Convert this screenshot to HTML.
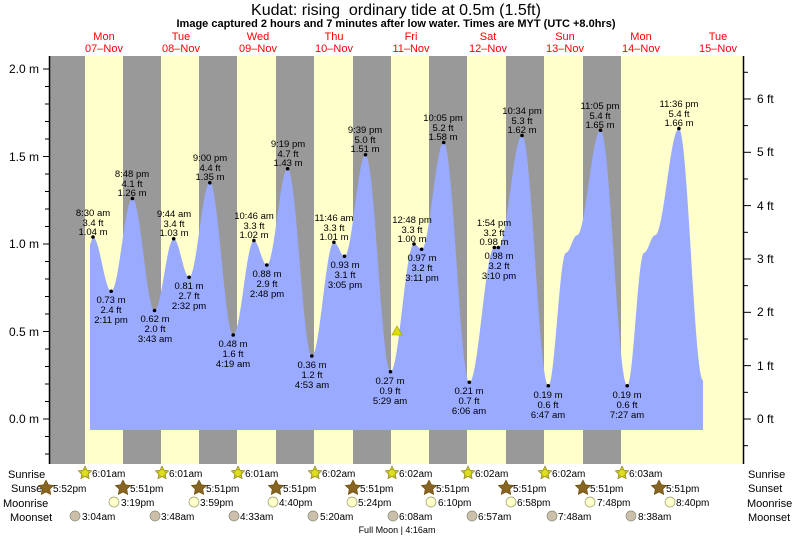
<!DOCTYPE html>
<html><head><meta charset="utf-8"><style>
body{margin:0;background:#fff;}
svg text{font-family:"Liberation Sans",sans-serif;}
</style></head><body>
<svg id="s" width="793" height="537" xmlns="http://www.w3.org/2000/svg">
<rect width="793" height="537" fill="#fff"/>
<text x="396" y="15" font-size="16" text-anchor="middle" xml:space="preserve">Kudat: rising  ordinary tide at 0.5m (1.5ft)</text>
<text x="396" y="27" font-size="11" font-weight="bold" text-anchor="middle">Image captured 2 hours and 7 minutes after low water. Times are MYT (UTC +8.0hrs)</text>
<g fill="#ff0000" font-size="11" text-anchor="middle">
<text x="104" y="40">Mon</text><text x="104" y="52">07–Nov</text>
<text x="181" y="40">Tue</text><text x="181" y="52">08–Nov</text>
<text x="258" y="40">Wed</text><text x="258" y="52">09–Nov</text>
<text x="334" y="40">Thu</text><text x="334" y="52">10–Nov</text>
<text x="411" y="40">Fri</text><text x="411" y="52">11–Nov</text>
<text x="488" y="40">Sat</text><text x="488" y="52">12–Nov</text>
<text x="565" y="40">Sun</text><text x="565" y="52">13–Nov</text>
<text x="641" y="40">Mon</text><text x="641" y="52">14–Nov</text>
<text x="718" y="40">Tue</text><text x="718" y="52">15–Nov</text>
</g>
<rect x="50" y="56" width="693" height="408" fill="#ffffcc"/>
<g fill="#999">
<rect x="50" y="56" width="35" height="408"/>
<rect x="123" y="56" width="38" height="408"/>
<rect x="199" y="56" width="38" height="408"/>
<rect x="276" y="56" width="38" height="408"/>
<rect x="353" y="56" width="38" height="408"/>
<rect x="429" y="56" width="38" height="408"/>
<rect x="506" y="56" width="38" height="408"/>
<rect x="583" y="56" width="38" height="408"/>
</g>
<path id="tide" fill="#99aaff" d=""/>
<g id="dots" fill="#000"></g>
<polygon points="392,335 402,335 397,326" fill="#dddd00" stroke="#999900" stroke-width="0.6"/>
<line x1="49.5" y1="56" x2="49.5" y2="464" stroke="#000" stroke-width="1.5"/>
<line x1="743.5" y1="56" x2="743.5" y2="464" stroke="#000" stroke-width="1.5"/>
<g id="ticks" stroke="#000"></g>
<g font-size="12" text-anchor="end">
<text x="39" y="73">2.0 m</text><text x="39" y="161">1.5 m</text><text x="39" y="248">1.0 m</text><text x="39" y="336">0.5 m</text><text x="39" y="423">0.0 m</text>
</g>
<g font-size="12">
<text x="757" y="423">0 ft</text><text x="757" y="370">1 ft</text><text x="757" y="316">2 ft</text><text x="757" y="263">3 ft</text><text x="757" y="210">4 ft</text><text x="757" y="156">5 ft</text><text x="757" y="103">6 ft</text>
</g>
<g font-size="9.5" text-anchor="middle" fill="#000">
<text x="93" y="216">8:30 am</text><text x="93" y="226">3.4 ft</text><text x="93" y="235">1.04 m</text>
<text x="111" y="303">0.73 m</text><text x="111" y="313">2.4 ft</text><text x="111" y="323">2:11 pm</text>
<text x="132" y="177">8:48 pm</text><text x="132" y="187">4.1 ft</text><text x="132" y="196">1.26 m</text>
<text x="155" y="322">0.62 m</text><text x="155" y="332">2.0 ft</text><text x="155" y="342">3:43 am</text>
<text x="174" y="217">9:44 am</text><text x="174" y="227">3.4 ft</text><text x="174" y="236">1.03 m</text>
<text x="189" y="289">0.81 m</text><text x="189" y="299">2.7 ft</text><text x="189" y="309">2:32 pm</text>
<text x="210" y="161">9:00 pm</text><text x="210" y="171">4.4 ft</text><text x="210" y="180">1.35 m</text>
<text x="233" y="347">0.48 m</text><text x="233" y="357">1.6 ft</text><text x="233" y="367">4:19 am</text>
<text x="254" y="219">10:46 am</text><text x="254" y="229">3.3 ft</text><text x="254" y="238">1.02 m</text>
<text x="267" y="277">0.88 m</text><text x="267" y="287">2.9 ft</text><text x="267" y="297">2:48 pm</text>
<text x="288" y="147">9:19 pm</text><text x="288" y="157">4.7 ft</text><text x="288" y="166">1.43 m</text>
<text x="312" y="368">0.36 m</text><text x="312" y="378">1.2 ft</text><text x="312" y="388">4:53 am</text>
<text x="334" y="221">11:46 am</text><text x="334" y="231">3.3 ft</text><text x="334" y="240">1.01 m</text>
<text x="345" y="268">0.93 m</text><text x="345" y="278">3.1 ft</text><text x="345" y="288">3:05 pm</text>
<text x="365" y="133">9:39 pm</text><text x="365" y="143">5.0 ft</text><text x="365" y="152">1.51 m</text>
<text x="390" y="384">0.27 m</text><text x="390" y="394">0.9 ft</text><text x="390" y="404">5:29 am</text>
<text x="412" y="223">12:48 pm</text><text x="412" y="233">3.3 ft</text><text x="412" y="242">1.00 m</text>
<text x="422" y="261">0.97 m</text><text x="422" y="271">3.2 ft</text><text x="422" y="281">3:11 pm</text>
<text x="443" y="121">10:05 pm</text><text x="443" y="131">5.2 ft</text><text x="443" y="140">1.58 m</text>
<text x="469" y="394">0.21 m</text><text x="469" y="404">0.7 ft</text><text x="469" y="414">6:06 am</text>
<text x="494" y="226">1:54 pm</text><text x="494" y="236">3.2 ft</text><text x="494" y="245">0.98 m</text>
<text x="499" y="259">0.98 m</text><text x="499" y="269">3.2 ft</text><text x="499" y="279">3:10 pm</text>
<text x="522" y="114">10:34 pm</text><text x="522" y="124">5.3 ft</text><text x="522" y="133">1.62 m</text>
<text x="548" y="398">0.19 m</text><text x="548" y="408">0.6 ft</text><text x="548" y="418">6:47 am</text>
<text x="600" y="109">11:05 pm</text><text x="600" y="119">5.4 ft</text><text x="600" y="128">1.65 m</text>
<text x="627" y="398">0.19 m</text><text x="627" y="408">0.6 ft</text><text x="627" y="418">7:27 am</text>
<text x="679" y="107">11:36 pm</text><text x="679" y="117">5.4 ft</text><text x="679" y="126">1.66 m</text>
</g>
<g font-size="11">
<text x="8" y="478">Sunrise</text><text x="11" y="492">Sunset</text><text x="3" y="507">Moonrise</text><text x="10" y="521">Moonset</text>
<text x="748" y="478">Sunrise</text><text x="748" y="492">Sunset</text><text x="747" y="507">Moonrise</text><text x="748" y="521">Moonset</text>
</g>
<g id="icons"></g>
<g font-size="10" fill="#000">
<text x="92" y="477">6:01am</text><text x="169" y="477">6:01am</text><text x="245" y="477">6:01am</text><text x="322" y="477">6:02am</text><text x="399" y="477">6:02am</text><text x="475" y="477">6:02am</text><text x="552" y="477">6:02am</text><text x="629" y="477">6:03am</text>
<text x="53" y="492">5:52pm</text><text x="130" y="492">5:51pm</text><text x="206" y="492">5:51pm</text><text x="283" y="492">5:51pm</text><text x="360" y="492">5:51pm</text><text x="436" y="492">5:51pm</text><text x="513" y="492">5:51pm</text><text x="590" y="492">5:51pm</text><text x="666" y="492">5:51pm</text>
<text x="121" y="506">3:19pm</text><text x="200" y="506">3:59pm</text><text x="279" y="506">4:40pm</text><text x="358" y="506">5:24pm</text><text x="438" y="506">6:10pm</text><text x="517" y="506">6:58pm</text><text x="597" y="506">7:48pm</text><text x="676" y="506">8:40pm</text>
<text x="82" y="520">3:04am</text><text x="161" y="520">3:48am</text><text x="240" y="520">4:33am</text><text x="320" y="520">5:20am</text><text x="399" y="520">6:08am</text><text x="478" y="520">6:57am</text><text x="558" y="520">7:48am</text><text x="638" y="520">8:38am</text>
</g>
<text x="397" y="533" font-size="9" text-anchor="middle">Full Moon | 4:16am</text>
</svg>
<script>
var NS="http://www.w3.org/2000/svg";
function Y(h){return 419-175*h;}
var P=[[90,1.0],[93,1.04],[111.2,0.73],[132.4,1.26],[154.5,0.62],[173.7,1.03],[189.1,0.81],[209.8,1.35],[233.2,0.48],[253.9,1.02],[266.8,0.88],[287.6,1.43],[311.8,0.36],[333.9,1.01],[344.5,0.93],[365.5,1.51],[390.5,0.27],[414,1.0],[421.6,0.97],[443.7,1.58],[469.3,0.21],[494.3,0.98],[498.3,0.98],[522,1.62],[548.3,0.19],[566,0.95],[577,1.05],[600.5,1.65],[627.2,0.19],[644,0.95],[655,1.05],[678.9,1.66],[703,0.22]];
var d="M90,430 L90,"+Y(1.0);
for(var i=0;i<P.length-1;i++){var a=P[i],b=P[i+1];for(var x=Math.ceil(a[0]);x<=b[0];x+=1){var t=(x-a[0])/(b[0]-a[0]);var h=a[1]+(b[1]-a[1])*(1-Math.cos(Math.PI*t))/2;d+=" L"+x+","+Y(h).toFixed(1);}}
d+=" L703,430 Z";document.getElementById("tide").setAttribute("d",d);
var dots=document.getElementById("dots");
for(var i=1;i<P.length;i++){if([25,26,29,30,32].indexOf(i)>=0)continue;var c=document.createElementNS(NS,"circle");c.setAttribute("cx",P[i][0]);c.setAttribute("cy",Y(P[i][1]));c.setAttribute("r",1.8);dots.appendChild(c);}
var tk=document.getElementById("ticks");
function L(x1,y1,x2,y2){var l=document.createElementNS(NS,"line");l.setAttribute("x1",x1);l.setAttribute("y1",y1);l.setAttribute("x2",x2);l.setAttribute("y2",y2);tk.appendChild(l);}
for(var k=-3;k<=21;k++){var y=Y(k/10);if(y<56||y>464)continue;L(k%5==0?43:45,y,49,y);}
for(var k=-1;k<=13;k++){var y=419-53.34*k/2;if(y<56||y>464)continue;L(744,y,k%2==0?751:748,y);}
var ic=document.getElementById("icons");
function star(cx,cy,r,fill,stroke){var p="";for(var i=0;i<10;i++){var rr=i%2?r*0.5:r;var a=-Math.PI/2+i*Math.PI/5;p+=(cx+rr*Math.cos(a)).toFixed(1)+","+(cy+rr*Math.sin(a)).toFixed(1)+" ";}var s=document.createElementNS(NS,"polygon");s.setAttribute("points",p);s.setAttribute("fill",fill);s.setAttribute("stroke",stroke);s.setAttribute("stroke-width","0.6");ic.appendChild(s);}
function circ(cx,cy,r,fill,stroke){var c=document.createElementNS(NS,"circle");c.setAttribute("cx",cx);c.setAttribute("cy",cy);c.setAttribute("r",r);c.setAttribute("fill",fill);c.setAttribute("stroke",stroke);c.setAttribute("stroke-width","0.7");ic.appendChild(c);}
[85,162,238,315,392,468,545,622].forEach(function(x){star(x,473,7,"#cccc33","#887722");circ(x,473,3.5,"#dddd22","#aaaa00");});
[46,123,199,276,353,429,506,583,659].forEach(function(x){star(x,488,8,"#886622","#664400");});
[114,194,273,352,431,511,590,670].forEach(function(x){circ(x,502,5,"#ffffcc","#999966");});
[75,155,234,313,393,472,552,631].forEach(function(x){circ(x,516,5,"#ccc0aa","#888877");});
</script>
</body></html>
